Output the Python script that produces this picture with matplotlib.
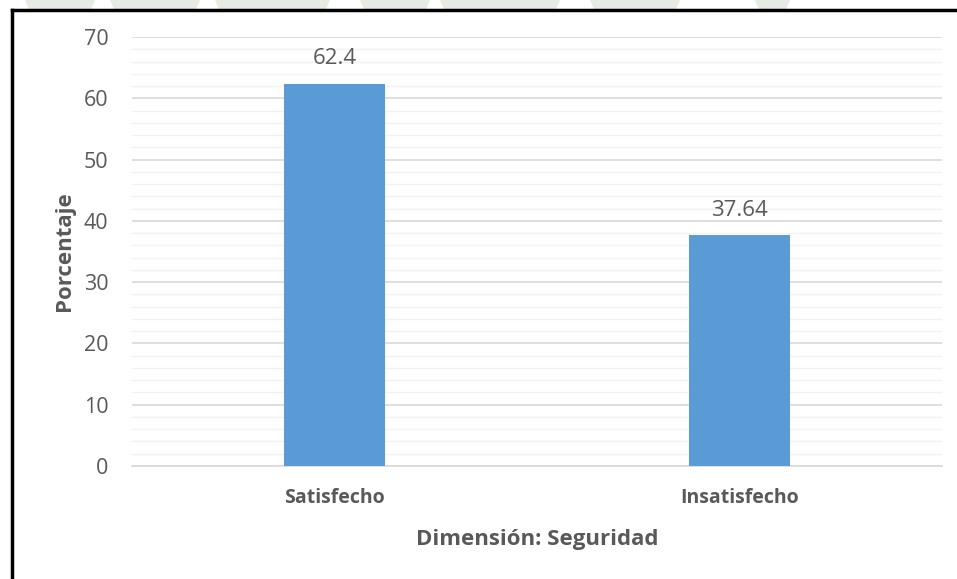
import matplotlib.pyplot as plt
from matplotlib.lines import Line2D
from matplotlib.patches import Polygon
import numpy as np

# Datos de la dimensión Seguridad
categorias = ["Satisfecho", "Insatisfecho"]
porcentajes = [62.4, 37.64]
etiquetas = ["62.4", "37.64"]

plt.rcParams['font.family'] = ['Open Sans', 'DejaVu Sans']
gris = '#595959'

fig = plt.figure(figsize=(9.57, 5.79), dpi=100)

# marca de agua tenue sobre el marco
W, H = 957, 579
for xs in [(25, 95), (110, 200), (215, 330), (360, 430), (440, 560), (590, 680), (755, 790)]:
    fig.add_artist(Polygon([(xs[0] / W, 1), (xs[1] / W, 1), (xs[1] / W - 0.004, 1 - 9 / H),
                            (xs[0] / W + 0.004, 1 - 9 / H)], closed=True,
                           facecolor='#e6ebe3', edgecolor='none'))

ax = fig.add_axes([132 / W, 1 - 466 / H, 810 / W, 429 / H])

x = np.arange(len(categorias))
bars = ax.bar(x, porcentajes, width=0.25, color='#5b9bd5', zorder=3)
for b, txt in zip(bars, etiquetas):
    ax.text(b.get_x() + b.get_width() / 2, b.get_height() + 2.4, txt,
            ha='center', va='bottom', fontsize=16, color=gris)

ax.set_xlim(-0.5, 1.5)
ax.set_ylim(0, 70)
ax.set_yticks(np.arange(0, 71, 10))
ax.set_yticks(np.arange(0, 71, 2), minor=True)
ax.grid(axis='y', which='major', color='#d9d9d9', linewidth=1.2, zorder=0)
ax.grid(axis='y', which='minor', color='#f2f2f2', linewidth=1.0, zorder=0)
ax.set_xticks(x)
ax.set_xticklabels(categorias, fontsize=14, fontweight='bold', color=gris)
ax.tick_params(axis='y', which='both', length=0, labelsize=15.5, labelcolor=gris, pad=17)
ax.tick_params(axis='x', length=0, pad=16)
for s in ['top', 'right', 'left']:
    ax.spines[s].set_visible(False)
ax.spines['bottom'].set_color('#d9d9d9')
ax.spines['bottom'].set_linewidth(1.2)

ax.set_ylabel("Porcentaje", fontsize=16, fontweight='bold', color=gris, labelpad=6)
ax.set_xlabel("Dimensión: Seguridad", fontsize=16, fontweight='bold', color=gris, labelpad=15)

# marco negro del gráfico
fig.add_artist(Line2D([12 / W, 1], [1 - 10 / H, 1 - 10 / H], color='black', linewidth=2.5))
fig.add_artist(Line2D([12 / W, 12 / W], [0, 1 - 10 / H], color='black', linewidth=2.5))

fig.savefig("out.png", dpi=100)
